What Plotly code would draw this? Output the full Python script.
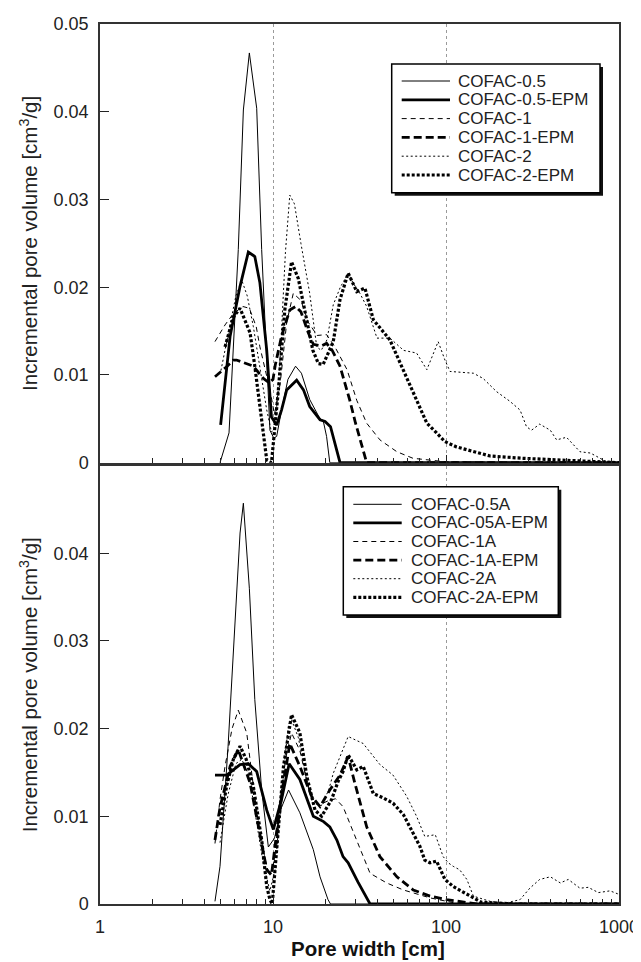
import plotly.graph_objects as go

# ---------------- data: top panel ----------------
top_names = ["COFAC-0.5", "COFAC-0.5-EPM", "COFAC-1", "COFAC-1-EPM", "COFAC-2", "COFAC-2-EPM"]

c05_x = [4.94, 5.57, 6.3, 6.74, 7.3, 8.05, 8.6, 9.6, 10.1, 10.5, 11.2, 12.2, 13.5, 14.6, 16.3, 18.7, 19.5, 20.4, 21.3, 40, 1000]
c05_y = [0, 0.0034, 0.0243, 0.0402, 0.0467, 0.0404, 0.0243, 0.0037, 0.0028, 0.003, 0.006, 0.0095, 0.011, 0.0102, 0.0072, 0.005, 0.0048, 0.003, 0, 0, 0]

c05e_x = [4.98, 5.65, 6.45, 7.2, 7.85, 8.4, 9.2, 9.8, 10.5, 11.2, 12.0, 13.7, 15.0, 16.3, 18.7, 20.0, 21.5, 24.4, 50, 1000]
c05e_y = [0.0043, 0.0144, 0.0201, 0.024, 0.0235, 0.0205, 0.0128, 0.0052, 0.0043, 0.006, 0.0083, 0.0094, 0.0083, 0.0064, 0.0049, 0.0047, 0.0041, 0, 0, 0]

c1_x = [4.62, 5.28, 5.9, 6.7, 7.3, 8.0, 8.4, 9.0, 9.6, 10.2, 11.0, 12.0, 13.1, 14.5, 16.0, 18.0, 20.4, 22.8, 26.8, 30.5, 34.8, 41.5, 52, 64.5, 100, 1000]
c1_y = [0.0138, 0.0157, 0.017, 0.0178, 0.0176, 0.0155, 0.0132, 0.0105, 0.0083, 0.0055, 0.009, 0.016, 0.0193, 0.0185, 0.016, 0.0145, 0.0146, 0.0132, 0.0106, 0.0071, 0.0045, 0.0026, 0.00125, 0.0005, 0.0001, 0]

c1e_x = [4.62, 5.3, 5.9, 6.15, 7.7, 8.8, 9.5, 10.0, 10.3, 11.2, 12.5, 13.5, 14.5, 16.0, 17.1, 19.0, 20.4, 22.0, 24.4, 27.8, 30.0, 32.5, 34.8, 60, 1000]
c1e_y = [0.0098, 0.0108, 0.0117, 0.0117, 0.011, 0.0096, 0.0091, 0.0095, 0.0111, 0.0144, 0.0174, 0.0178, 0.0172, 0.0148, 0.0135, 0.0133, 0.0136, 0.0128, 0.011, 0.0071, 0.0045, 0.0022, 0, 0, 0]

c2_x = [5.0, 5.6, 6.1, 6.6, 7.1, 7.7, 8.4, 9.2, 9.8, 10.3, 11.0, 11.8, 12.5, 13.3, 14.5, 16.3, 17.9, 19.0, 20.5, 22.3, 24.5, 27.2, 29.0, 31.8, 34.8, 39.9, 47.4, 56.9, 67.6, 77.5, 90.1, 98.6, 105.5, 144, 164, 196, 234, 268, 292, 312, 348, 401, 436, 497, 595, 684, 778, 850, 1000]
c2_y = [0.0105, 0.0155, 0.019, 0.0208, 0.019, 0.0155, 0.011, 0.006, 0.0035, 0.004, 0.012, 0.024, 0.0305, 0.0295, 0.025, 0.0193, 0.0132, 0.0128, 0.014, 0.018, 0.02, 0.0216, 0.0205, 0.0193, 0.0178, 0.0142, 0.0142, 0.0128, 0.0125, 0.0106, 0.0138, 0.0117, 0.0104, 0.0102, 0.0096, 0.0081, 0.007, 0.006, 0.0041, 0.0037, 0.0044, 0.0037, 0.0026, 0.0029, 0.00125, 0.0011, 0.0005, 0.0001, 0]

c2e_x = [5.28, 5.9, 6.45, 7.37, 7.85, 8.6, 9.2, 9.8, 10.7, 11.7, 12.8, 14.0, 15.7, 17.0, 18.3, 19.5, 22.3, 24.4, 27.2, 30.5, 34.0, 38, 47.4, 59.2, 69.1, 77.5, 88.2, 98.6, 115, 144, 180, 279, 436, 700, 1000]
c2e_y = [0.0132, 0.0166, 0.0176, 0.0148, 0.011, 0.0049, 0.0003, 0, 0.0079, 0.0174, 0.0229, 0.021, 0.0163, 0.0128, 0.0113, 0.0112, 0.0138, 0.0186, 0.0216, 0.0195, 0.0199, 0.0163, 0.014, 0.0098, 0.0068, 0.0045, 0.0034, 0.0024, 0.0018, 0.00125, 0.00076, 0.0005, 0.0003, 0.0001, 0]

# ---------------- data: bottom panel ----------------
bot_names = ["COFAC-0.5A", "COFAC-05A-EPM", "COFAC-1A", "COFAC-1A-EPM", "COFAC-2A", "COFAC-2A-EPM"]

a05_x = [4.62, 4.94, 5.5, 6.1, 6.45, 6.74, 7.3, 7.85, 8.6, 9.4, 10.2, 11.2, 12.3, 14.3, 17.1, 18.7, 20.8, 21.5, 50, 1000]
a05_y = [0.0003, 0.0043, 0.018, 0.034, 0.0423, 0.0457, 0.036, 0.0233, 0.013, 0.0065, 0.0075, 0.011, 0.013, 0.0104, 0.0062, 0.0031, 0.0005, 0, 0, 0]

a05e_x = [4.62, 5.4, 6.45, 7.2, 8.05, 9.2, 10.05, 11.2, 12.4, 14.3, 17.1, 19.6, 21.3, 23.4, 25.4, 27.2, 31.0, 36.4, 100, 1000]
a05e_y = [0.0147, 0.0147, 0.0159, 0.016, 0.0151, 0.0107, 0.0085, 0.0119, 0.016, 0.0142, 0.01, 0.0094, 0.0088, 0.0073, 0.0054, 0.0047, 0.0025, 0, 0, 0]

a1_x = [4.62, 4.94, 5.28, 5.8, 6.3, 7.05, 7.7, 8.5, 9.2, 9.6, 10.2, 10.9, 11.8, 12.8, 14.3, 16.3, 18.5, 21.0, 23.0, 25.4, 30.5, 36.4, 45.4, 56.7, 80.8, 120, 1000]
a1_y = [0.0069, 0.0119, 0.0157, 0.02, 0.0221, 0.0195, 0.0134, 0.0075, 0.0043, 0.0033, 0.005, 0.01, 0.0165, 0.0195, 0.0175, 0.0126, 0.0113, 0.0118, 0.012, 0.0111, 0.0073, 0.0035, 0.0024, 0.0016, 0.0007, 0, 0]

a1e_x = [4.62, 4.94, 5.65, 6.3, 7.37, 8.4, 9.2, 9.8, 10.9, 12.5, 14.3, 16.7, 18.7, 21.3, 24.4, 27.2, 29.7, 34.8, 41.5, 52, 64.7, 80.8, 100.7, 150, 1000]
a1e_y = [0.0073, 0.011, 0.0157, 0.0176, 0.0138, 0.0081, 0.0039, 0.0033, 0.0107, 0.0183, 0.0157, 0.0123, 0.0111, 0.013, 0.0147, 0.0168, 0.0138, 0.0088, 0.0054, 0.0031, 0.0016, 0.0009, 0.0005, 0, 0]

a2_x = [4.94, 5.5, 6.1, 6.6, 7.3, 8.0, 8.8, 9.6, 10.3, 11.2, 12.3, 12.8, 14.0, 15.5, 17.0, 19.0, 21.0, 22.3, 24.5, 27.2, 30.0, 33.2, 41.5, 49.4, 59.2, 67.6, 75.4, 86.7, 96.3, 103, 110, 120, 132, 144, 180, 220, 268, 305, 348, 401, 458, 509, 595, 664, 760, 888, 1000]
a2_y = [0.007, 0.0125, 0.016, 0.0165, 0.0145, 0.0095, 0.0045, 0.0015, 0.004, 0.013, 0.0205, 0.021, 0.019, 0.0145, 0.0115, 0.0112, 0.013, 0.0149, 0.017, 0.0191, 0.0187, 0.0183, 0.0159, 0.0147, 0.0123, 0.01, 0.0077, 0.0079, 0.0054, 0.0047, 0.0043, 0.0039, 0.0028, 0.0009, 0.0003, 0.0001, 0.0005, 0.0018, 0.0028, 0.0031, 0.0024, 0.0028, 0.0018, 0.0019, 0.0013, 0.0015, 0.0011]

a2e_x = [4.94, 5.4, 5.9, 6.45, 7.0, 7.7, 8.6, 9.2, 9.6, 9.9, 10.5, 11.5, 12.8, 14.3, 15.7, 17.5, 19.1, 21.8, 23.8, 25.4, 27.2, 30.5, 33.2, 38, 43.3, 49.4, 56.7, 64.7, 70.6, 75.4, 80.8, 88.2, 98.6, 110, 120, 137, 160, 250, 1000]
a2e_y = [0.009, 0.0135, 0.0165, 0.018, 0.0165, 0.0134, 0.0073, 0.002, 0.0005, 0, 0.0062, 0.0157, 0.0216, 0.0195, 0.0145, 0.0107, 0.01, 0.0119, 0.014, 0.0151, 0.017, 0.0153, 0.0157, 0.0126, 0.0121, 0.0115, 0.0102, 0.0081, 0.0066, 0.005, 0.0047, 0.0049, 0.0028, 0.002, 0.0016, 0.0009, 0.0002, 0, 0]

x_ticks = [1, 10, 100, 1000]
x_ticktext = ["1", "10", "100", "1000"]
y_ticks_top = [0, 0.01, 0.02, 0.03, 0.04, 0.05]
y_ticks_bot = [0, 0.01, 0.02, 0.03, 0.04]

# ---------------- styles ----------------
styles = [
    dict(width=1.0, dash="solid"),
    dict(width=2.8, dash="solid"),
    dict(width=1.0, dash="5px,4px"),
    dict(width=2.8, dash="8px,4px"),
    dict(width=1.0, dash="2px,2.5px"),
    dict(width=3.2, dash="3px,2px"),
]

top_data = [(c05_x, c05_y), (c05e_x, c05e_y), (c1_x, c1_y), (c1e_x, c1e_y), (c2_x, c2_y), (c2e_x, c2e_y)]
bot_data = [(a05_x, a05_y), (a05e_x, a05e_y), (a1_x, a1_y), (a1e_x, a1e_y), (a2_x, a2_y), (a2e_x, a2e_y)]

fig = go.Figure()
for i, (xs, ys) in enumerate(top_data):
    fig.add_trace(go.Scatter(x=xs, y=ys, mode="lines", name=top_names[i],
                             line=dict(color="black", **styles[i]),
                             xaxis="x", yaxis="y", showlegend=False))
for i, (xs, ys) in enumerate(bot_data):
    fig.add_trace(go.Scatter(x=xs, y=ys, mode="lines", name=bot_names[i],
                             line=dict(color="black", **styles[i]),
                             xaxis="x2", yaxis="y2", showlegend=False))

FONT = "Arial, Liberation Sans, sans-serif"
# the page body adds an 8px margin, so the figure is 8px smaller and all
# screen positions below are measured in window pixels
OFF = 8
W, H = 641 - OFF, 962 - OFF
PLOT_L, PLOT_R, PLOT_T, PLOT_B = 100, 619, 24, 904   # window pixels
ML, MR, MT, MB = PLOT_L - OFF, W - (PLOT_R - OFF), PLOT_T - OFF, H - (PLOT_B - OFF)
PW = PLOT_R - PLOT_L
PH = PLOT_B - PLOT_T

def px_x(px):
    return (px - PLOT_L) / PW

def px_y(py):
    return (PLOT_B - py) / PH

minor_vals = [m * d for d in (1, 10, 100) for m in range(2, 10)]

def xaxis_cfg(anchor, labels):
    return dict(type="log", range=[0, 3], anchor=anchor, automargin=False,
                tickvals=x_ticks, ticktext=x_ticktext, showticklabels=labels,
                ticks="inside", ticklen=8, tickwidth=1.2, tickcolor="#222",
                showgrid=True, gridcolor="#9a9a9a", griddash="dot", gridwidth=1,
                minor=dict(tickvals=minor_vals, ticks="inside", ticklen=5, tickwidth=1.2,
                           tickcolor="#222", showgrid=False),
                showline=True, linecolor="#333", linewidth=1.5, mirror=True,
                zeroline=False,
                tickfont=dict(family=FONT, size=18, color="#222"),
                ticklabelstandoff=6)

def yaxis_cfg(anchor, dom, tv, rng):
    return dict(domain=dom, range=rng, anchor=anchor, tickvals=tv, automargin=False,
                ticks="inside", ticklen=9, tickwidth=1.2, tickcolor="#222",
                showgrid=False, zeroline=False,
                showline=True, linecolor="#333", linewidth=1.5, mirror=True,
                tickfont=dict(family=FONT, size=18, color="#222"),
                ticklabelstandoff=6,
                title=dict(text="Incremental pore volume [cm<sup>3</sup>/g]",
                           font=dict(family=FONT, size=20.5, color="#222"), standoff=10))

top_dom = [px_y(462.7), 1.0]
bot_dom = [0.0, px_y(465.5)]

fig.update_layout(
    width=W, height=H,
    margin=dict(l=ML, r=MR, t=MT, b=MB, autoexpand=False),
    paper_bgcolor="white", plot_bgcolor="white",
    xaxis=xaxis_cfg("y", False),
    yaxis=yaxis_cfg("x", top_dom, y_ticks_top, [0, 0.05]),
    xaxis2=xaxis_cfg("y2", True),
    yaxis2=yaxis_cfg("x2", bot_dom, y_ticks_bot, [0, 0.05]),
    showlegend=False,
)

shapes = []
annotations = []

def add_legend(box, rows_y, sx0, sx1, tx, names):
    x0, y0, x1, y1 = box
    sh = 3
    shapes.append(dict(type="rect", xref="paper", yref="paper",
                       x0=px_x(x0 + sh), x1=px_x(x1 + sh), y0=px_y(y1 + sh), y1=px_y(y0 + sh),
                       fillcolor="#111", line=dict(width=0), layer="above"))
    shapes.append(dict(type="rect", xref="paper", yref="paper",
                       x0=px_x(x0), x1=px_x(x1), y0=px_y(y1), y1=px_y(y0),
                       fillcolor="white", line=dict(color="black", width=1.5), layer="above"))
    for i, name in enumerate(names):
        yy = px_y(rows_y[i])
        shapes.append(dict(type="line", xref="paper", yref="paper",
                           x0=px_x(sx0), x1=px_x(sx1), y0=yy, y1=yy,
                           line=dict(color="black", width=styles[i]["width"], dash=styles[i]["dash"]),
                           layer="above"))
        annotations.append(dict(xref="paper", yref="paper", x=px_x(tx), y=yy,
                                text=name, showarrow=False, xanchor="left", yanchor="middle",
                                font=dict(family=FONT, size=17, color="#222")))

add_legend((391.7, 64, 600, 192.7), [81 + 18.8 * i for i in range(6)], 401.7, 450, 456, top_names)
add_legend((343.3, 486.7, 558.3, 615), [504.3 + 18.6 * i for i in range(6)], 353.3, 401.7, 409, bot_names)

annotations.append(dict(xref="paper", yref="paper", x=px_x(368), y=px_y(949),
                        text="<b>Pore width [cm]</b>", showarrow=False,
                        xanchor="center", yanchor="middle",
                        font=dict(family=FONT, size=20.5, color="#111")))

fig.update_layout(shapes=shapes, annotations=annotations)

fig.write_html("out.html")
